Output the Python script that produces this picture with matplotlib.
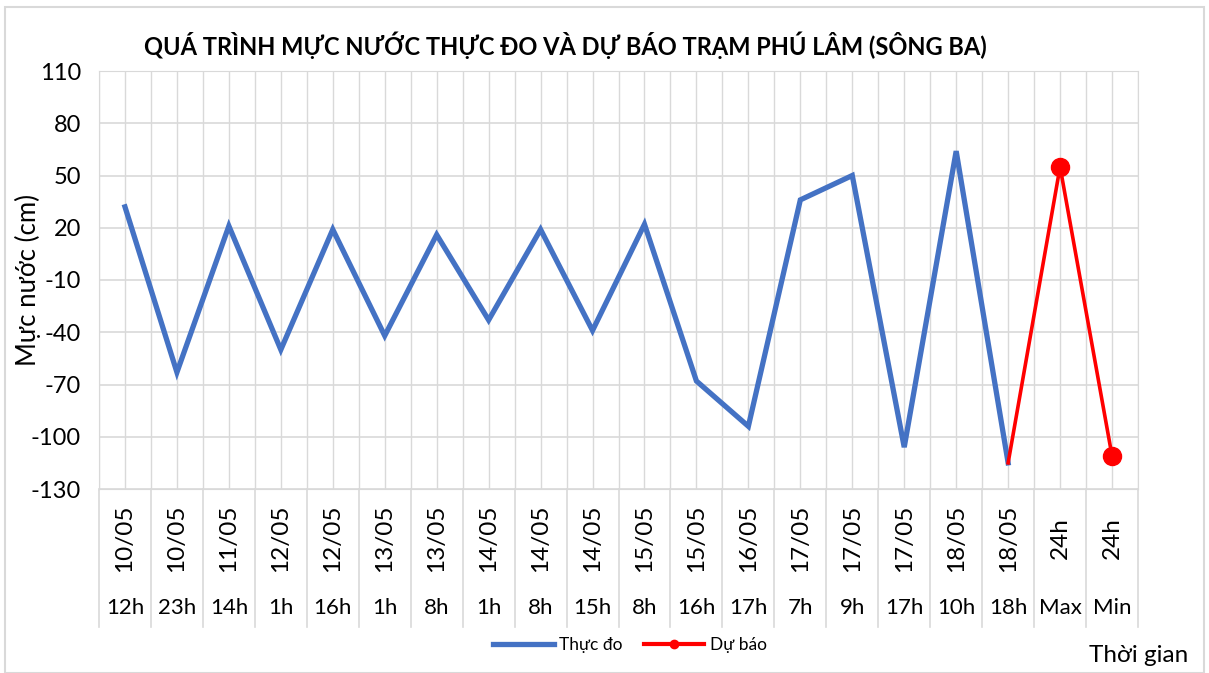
import numpy as np
import matplotlib
matplotlib.use('Agg')
import matplotlib.pyplot as plt
from matplotlib.lines import Line2D

plt.rcParams['font.family'] = ['Liberation Sans Narrow', 'Lato', 'DejaVu Sans']
plt.rcParams['axes.unicode_minus'] = False

# data
dates = ['10/05', '10/05', '11/05', '12/05', '12/05', '13/05', '13/05', '14/05', '14/05', '14/05',
         '15/05', '15/05', '16/05', '17/05', '17/05', '17/05', '18/05', '18/05', '24h', '24h']
hours = ['12h', '23h', '14h', '1h', '16h', '1h', '8h', '1h', '8h', '15h',
         '8h', '16h', '17h', '7h', '9h', '17h', '10h', '18h', 'Max', 'Min']
observed = [32, -63, 21, -50, 19, -42, 16, -33, 19, -39,
            22, -68, -94, 36, 50, -106, 64, -115]
forecast = [np.nan] * 17 + [-115, 55, -111]

W, H = 1209, 673
fig = plt.figure(figsize=(W / 100, H / 100), dpi=100)
ax = fig.add_axes([99 / W, 1 - 489 / H, (1138 - 99) / W, (489 - 71) / H])

n = len(hours)
x = np.arange(n)
grid_c = '#d9d9d9'

ax.set_xlim(-0.5, n - 0.5)
ax.set_ylim(-130, 110)
ax.set_yticks(np.arange(-130, 111, 30))
ax.yaxis.grid(True, color=grid_c, lw=1.2)
for v in np.arange(-0.5, n, 0.5):
    ax.axvline(v, color=grid_c, lw=1, zorder=0)
ax.set_axisbelow(True)
for s in ax.spines.values():
    s.set_color(grid_c)
ax.tick_params(axis='y', length=0, labelsize=17, pad=13)
ax.tick_params(axis='x', length=0, labelbottom=False)

ax.plot(x[:len(observed)], observed, color='#4472C4', lw=3.8, solid_joinstyle='miter')
ax.plot(x, forecast, color='#FF0000', lw=2.6, marker='o', markersize=13,
        markevery=[n - 2, n - 1])

# multi-level category labels
tr = ax.get_xaxis_transform()
for k in range(n + 1):
    ax.plot([k - 0.5, k - 0.5], [0, -0.33], color=grid_c, lw=1.2,
            transform=tr, clip_on=False)
for i in range(n):
    ax.text(i, -0.117, dates[i], rotation=90, ha='center', va='center',
            fontsize=17.5, transform=tr)
    ax.text(i, -0.285, hours[i], ha='center', va='center', fontsize=16, transform=tr)

fig.text(565 / W, 1 - 45 / H, 'QUÁ TRÌNH MỰC NƯỚC THỰC ĐO VÀ DỰ BÁO TRẠM PHÚ LÂM (SÔNG BA)',
         ha='center', va='center', fontsize=17, fontweight='bold')
fig.text(28 / W, 1 - 280 / H, 'Mực nước (cm)', rotation=90, ha='center', va='center',
         fontsize=18.5)
fig.text(1188 / W, 1 - 655 / H, 'Thời gian', ha='right', va='center', fontsize=17.5)

handles = [Line2D([], [], color='#4472C4', lw=3.8),
           Line2D([], [], color='#FF0000', lw=3, marker='o', markersize=6)]
fig.legend(handles, ['Thực đo', 'Dự báo'], loc='center', ncol=2, frameon=False,
           bbox_to_anchor=(630 / W, 1 - 645 / H), fontsize=12.5, handlelength=3.5,
           columnspacing=1.2, handletextpad=0.3)

fig.add_artist(plt.Rectangle((5 / W, 0), 1199 / W, 1 - 7 / H, fill=False,
                             ec=grid_c, lw=1.5, transform=fig.transFigure))

fig.savefig('out.png', dpi=100)
